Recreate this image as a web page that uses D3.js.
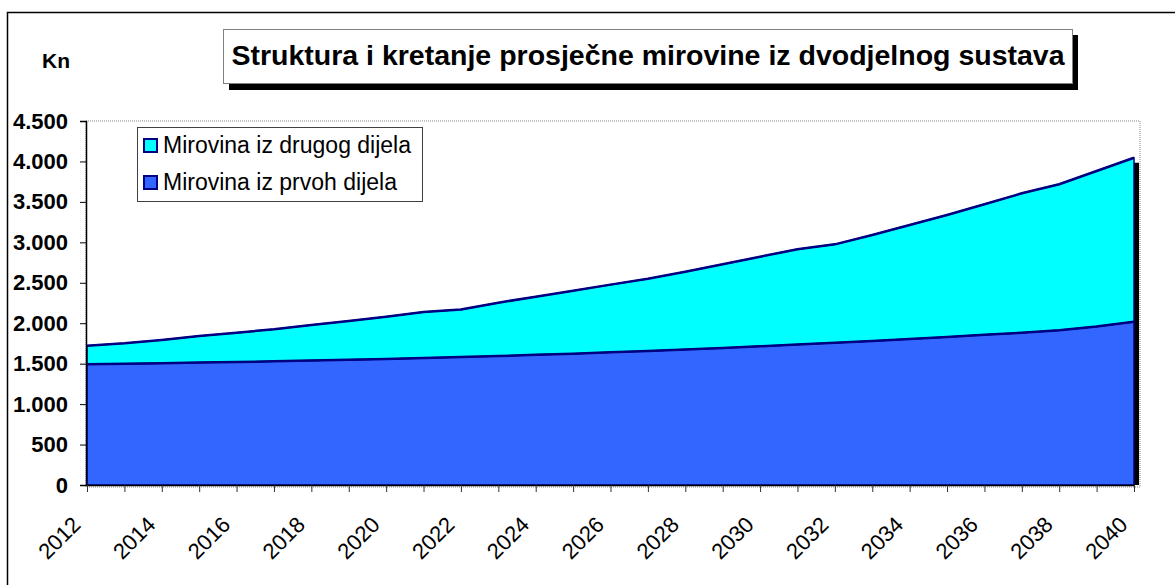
<!DOCTYPE html>
<html>
<head>
<meta charset="utf-8">
<script src="https://cdn.jsdelivr.net/npm/d3@7"></script>
<style>
    body { margin: 0; background: #fff; }
    svg { display: block; font-family: "Liberation Sans", Arial, sans-serif; }
</style>
</head>
<body>
<div id="grafikon"></div>
<script>
// Struktura prosječne mirovine - podaci očitani s grafikona
const godine = d3.range(2012, 2041);
const prviDio = [1492, 1499, 1506, 1513, 1521, 1529, 1538, 1548, 1558, 1569,
    1581, 1595, 1609, 1624, 1640, 1657, 1675, 1694, 1714, 1736,
    1758, 1781, 1805, 1830, 1856, 1883, 1913, 1960, 2019];
const drugiDio = [230, 253, 287, 329, 362, 396, 440, 479, 523, 570,
    589, 659, 719, 778, 837, 894, 962, 1034, 1108, 1179,
    1217, 1310, 1409, 1508, 1614, 1723, 1805, 1922, 2027];
const yTicks = [0, 500, 1000, 1500, 2000, 2500, 3000, 3500, 4000, 4500];
const nazivi = ['Mirovina iz drugog dijela', 'Mirovina iz prvoh dijela'];

document.addEventListener('DOMContentLoaded', () => {
    const width = 1175, height = 585;
    const svg = d3.select('#grafikon').append('svg')
        .attr('width', width)
        .attr('height', height);

    // vanjski okvir
    svg.append('rect')
        .attr('x', 7.5).attr('y', 12.5)
        .attr('width', 1200).attr('height', 600)
        .attr('fill', 'none').attr('stroke', '#000').attr('stroke-width', 1.5);

    const x = d3.scalePoint().domain(godine).range([87, 1134]);
    const y = d3.scaleLinear().domain([0, 4500]).range([485, 121]);
    const fmt = d3.formatLocale({ decimal: ',', thousands: '.', grouping: [3], currency: ['', ''] }).format(',');

    // okvir područja crtanja (točkasti)
    svg.append('rect')
        .attr('x', 86).attr('y', 121)
        .attr('width', 1054).attr('height', 366)
        .attr('fill', 'none').attr('stroke', '#c4c4c4')
        .attr('stroke-width', 2).attr('stroke-dasharray', '1,1');

    const rows = godine.map((g, i) => ({ godina: g, prvi: prviDio[i], drugi: drugiDio[i] }));
    const series = d3.stack().keys(['prvi', 'drugi'])(rows);

    // sjena desnog ruba
    const zadnji = rows[rows.length - 1];
    svg.append('rect')
        .attr('x', x(2040))
        .attr('y', y(zadnji.prvi + zadnji.drugi) + 5)
        .attr('width', 5)
        .attr('height', y(0) - y(zadnji.prvi + zadnji.drugi) - 5)
        .attr('fill', '#000');

    const area = d3.area()
        .x(d => x(d.data.godina))
        .y0(d => y(d[0]))
        .y1(d => y(d[1]));
    const boje = { prvi: '#3366ff', drugi: '#00ffff' };

    svg.selectAll('path.sloj')
        .data(series)
        .enter()
        .append('path')
        .attr('class', 'sloj')
        .attr('d', area)
        .attr('fill', d => boje[d.key])
        .attr('stroke', '#000080')
        .attr('stroke-width', 1.5)
        .attr('stroke-linejoin', 'round');

    // gornje linije
    const linija = d3.line()
        .x(d => x(d.data.godina))
        .y(d => y(d[1]));
    svg.selectAll('path.rub')
        .data(series)
        .enter()
        .append('path')
        .attr('class', 'rub')
        .attr('d', linija)
        .attr('fill', 'none')
        .attr('stroke', '#000080')
        .attr('stroke-width', 2.5)
        .attr('stroke-linejoin', 'round');

    // Y os
    const yAxis = svg.append('g')
        .attr('transform', 'translate(86,0)')
        .call(d3.axisLeft(y).tickValues(yTicks).tickSize(6).tickFormat(fmt));
    yAxis.select('.domain').attr('stroke', '#000').attr('stroke-width', 1.5);
    yAxis.selectAll('.tick line').attr('stroke', '#000');
    yAxis.selectAll('.tick text')
        .attr('x', -18)
        .attr('font-family', '"Liberation Sans", Arial, sans-serif')
        .attr('font-size', 22)
        .attr('font-weight', 'bold')
        .attr('fill', '#000');

    // X os
    const xAxis = svg.append('g')
        .attr('transform', 'translate(0,485)')
        .call(d3.axisBottom(x).tickSize(7).tickSizeOuter(0).tickFormat(''));
    xAxis.select('.domain').attr('stroke', '#000').attr('stroke-width', 1.5);
    xAxis.selectAll('.tick line').attr('stroke', '#333');

    svg.selectAll('text.godina')
        .data(godine.filter(g => g % 2 === 0))
        .enter()
        .append('text')
        .attr('class', 'godina')
        .attr('transform', d => `translate(${x(d) - 5},526) rotate(-45)`)
        .attr('text-anchor', 'end')
        .attr('font-size', 22)
        .attr('fill', '#000')
        .text(d => d);

    // Kn
    svg.append('text')
        .attr('x', 42).attr('y', 68)
        .attr('font-size', 21).attr('font-weight', 'bold')
        .text('Kn');

    // naslov sa sjenom
    svg.append('rect')
        .attr('x', 229).attr('y', 35)
        .attr('width', 849).attr('height', 55)
        .attr('fill', '#000');
    svg.append('rect')
        .attr('x', 223.5).attr('y', 29.5)
        .attr('width', 849).attr('height', 54)
        .attr('fill', '#fff').attr('stroke', '#808080').attr('stroke-width', 1);
    svg.append('text')
        .attr('x', 648).attr('y', 65)
        .attr('text-anchor', 'middle')
        .attr('font-size', 28.5).attr('font-weight', 'bold')
        .text('Struktura i kretanje prosječne mirovine iz dvodjelnog sustava');

    // legenda
    const leg = svg.append('g');
    leg.append('rect')
        .attr('x', 137.5).attr('y', 127.5)
        .attr('width', 285).attr('height', 74)
        .attr('fill', '#fff').attr('stroke', '#404040').attr('stroke-width', 1);
    const stavke = [
        { naziv: nazivi[0], boja: boje.drugi },
        { naziv: nazivi[1], boja: boje.prvi }
    ];
    const red = leg.selectAll('g.stavka')
        .data(stavke)
        .enter()
        .append('g')
        .attr('class', 'stavka')
        .attr('transform', (d, i) => `translate(0,${i * 37})`);
    red.append('rect')
        .attr('x', 144).attr('y', 139)
        .attr('width', 13).attr('height', 13)
        .attr('fill', d => d.boja)
        .attr('stroke', '#000080').attr('stroke-width', 2);
    red.append('text')
        .attr('x', 163).attr('y', 153)
        .attr('font-size', 23)
        .attr('fill', '#000')
        .text(d => d.naziv);
});
</script>
</body>
</html>
